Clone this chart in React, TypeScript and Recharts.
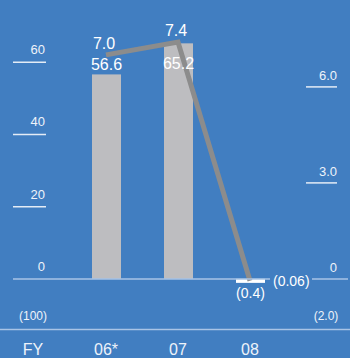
import React from "react"
import {
  ComposedChart,
  Bar,
  Line,
  XAxis,
  YAxis,
  Cell,
  LabelList,
  Customized,
} from "recharts"

const years = ["06*", "07", "08"]
const barValues = [56.6, 65.2, -0.4]
const lineValues = [7.0, 7.4, -0.06]
const leftTicks = [0, 20, 40, 60]
const rightTicks = [0, 3, 6]

const data = years.map((year, i) => ({
  year,
  bar: barValues[i],
  line: lineValues[i],
}))

const BG = "#417ec1"
const BAR = "#bdbdc0"
const LINE = "#8c8c8c"
const TICK_LINE = "#e4ecf6"
const ZERO_LINE = "#a9c4e6"
const FONT = "'Liberation Sans', Arial, sans-serif"

const fmt = (v: number, digits: number) =>
  v < 0 ? `(${Math.abs(v).toFixed(digits)})` : v.toFixed(digits)

const LeftTick = (props: any) => {
  const { y, payload } = props
  const v = payload.value
  return (
    <g>
      <line x1={13} x2={v === 0 ? 270 : 46} y1={y} y2={y} stroke={v === 0 ? ZERO_LINE : TICK_LINE} strokeWidth={1.5} />
      <text x={45} y={y - 8} textAnchor="end" fill="#eef3fa" fontSize={13} fontFamily={FONT}>
        {v}
      </text>
    </g>
  )
}

const RightTick = (props: any) => {
  const { y, payload } = props
  const v = payload.value
  return (
    <g>
      <line x1={v === 0 ? 312 : 306} x2={v === 0 ? 348 : 337} y1={y} y2={y} stroke={v === 0 ? ZERO_LINE : TICK_LINE} strokeWidth={1.5} />
      <text x={337} y={y - 7} textAnchor="end" fill="#eef3fa" fontSize={13} fontFamily={FONT}>
        {v === 0 ? "0" : v.toFixed(1)}
      </text>
    </g>
  )
}

const XTick = (props: any) => {
  const { x, payload } = props
  return (
    <text x={x} y={355} textAnchor="middle" fill="#eef3fa" fontSize={16} fontFamily={FONT}>
      {payload.value}
    </text>
  )
}

const BarShape = (props: any) => {
  const { x, y, width, height, value, fill } = props
  const top = Math.min(y, y + height)
  const h = Math.max(Math.abs(height), 4)
  const v = Array.isArray(value) ? value[1] - value[0] : value
  return <rect x={x} y={v < 0 ? top : top} width={width} height={h} fill={fill} />
}

const BarLabel = (props: any) => {
  const { x, y, width, height, value } = props
  const cx = x + width / 2
  if (value < 0) {
    const bottom = Math.max(y, y + height)
    return (
      <text x={cx} y={bottom + 18} textAnchor="middle" fill="#fff" fontSize={14} fontFamily={FONT}>
        {fmt(value, 1)}
      </text>
    )
  }
  const top = Math.min(y, y + height)
  return (
    <text x={cx} y={Math.max(top - 4, 69)} textAnchor="middle" fill="#fff" fontSize={16} fontFamily={FONT}>
      {fmt(value, 1)}
    </text>
  )
}

const LineLabel = (props: any) => {
  const { x, y, value } = props
  if (value < 0) {
    return (
      <text x={x + 23} y={y + 5} textAnchor="start" fill="#fff" fontSize={14} fontFamily={FONT}>
        {fmt(value, 2)}
      </text>
    )
  }
  return (
    <text x={x - 2} y={y - 6} textAnchor="middle" fill="#fff" fontSize={16} fontFamily={FONT}>
      {fmt(value, 1)}
    </text>
  )
}

const Extras = () => (
  <g fontFamily={FONT}>
    <text x={33} y={320} textAnchor="middle" fill="#eef3fa" fontSize={12}>(100)</text>
    <text x={326} y={320} textAnchor="middle" fill="#eef3fa" fontSize={12}>(2.0)</text>
    <line x1={0} x2={350} y1={329.5} y2={329.5} stroke={ZERO_LINE} strokeWidth={1.5} />
    <text x={33} y={355} textAnchor="middle" fill="#eef3fa" fontSize={16}>FY</text>
  </g>
)

export default function App() {
  return (
    <div style={{ position: "absolute", left: 0, top: 0, width: 350, height: 358, background: BG }}>
      <ComposedChart
        width={350}
        height={358}
        data={data}
        margin={{ top: 26, right: 0, bottom: 0, left: 0 }}
      >
        <XAxis
          dataKey="year"
          axisLine={false}
          tickLine={false}
          height={43}
          tick={<XTick />}
          interval={0}
        />
        <YAxis
          yAxisId="left"
          orientation="left"
          width={70}
          domain={[-10, 70]}
          ticks={leftTicks}
          axisLine={false}
          tickLine={false}
          tick={<LeftTick />}
          allowDataOverflow
        />
        <YAxis
          yAxisId="right"
          orientation="right"
          width={64}
          domain={[-1.128, 7.903]}
          ticks={rightTicks}
          axisLine={false}
          tickLine={false}
          tick={<RightTick />}
          allowDataOverflow
        />
        <Bar yAxisId="left" dataKey="bar" barSize={29} isAnimationActive={false} shape={<BarShape />}>
          {data.map((d, i) => (
            <Cell key={`c-${i}`} fill={d.bar < 0 ? "#ffffff" : BAR} />
          ))}
          <LabelList dataKey="bar" content={<BarLabel />} />
        </Bar>
        <Line
          yAxisId="right"
          dataKey="line"
          stroke={LINE}
          strokeWidth={5}
          dot={false}
          activeDot={false}
          isAnimationActive={false}
        >
          <LabelList dataKey="line" content={<LineLabel />} />
        </Line>
        <Customized component={Extras} />
      </ComposedChart>
    </div>
  )
}
